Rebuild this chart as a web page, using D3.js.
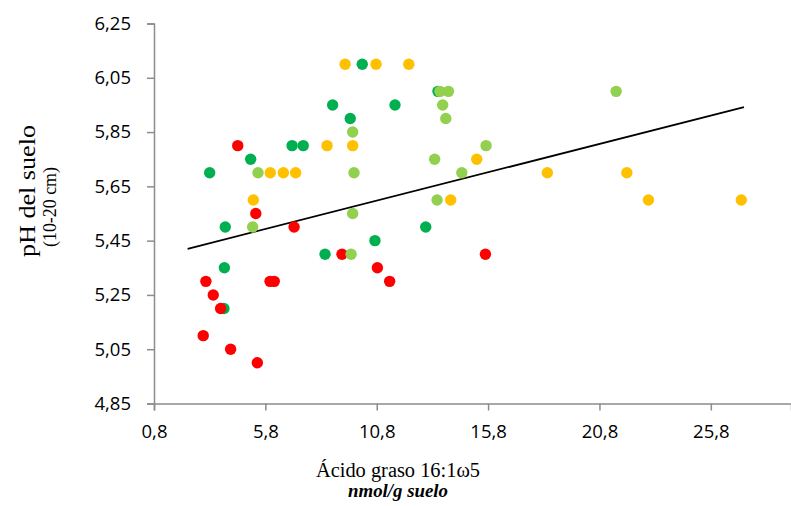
<!DOCTYPE html>
<html>
<head>
<meta charset="utf-8">
<script src="https://cdn.jsdelivr.net/npm/d3@7"></script>
<style>
  body { margin: 0; background: #fff; }
  .tick text { font-family: "Open Sans", sans-serif; font-size: 18.5px; fill: #000; }
  .domain, .tick line { stroke: #8c8c8c; stroke-width: 1.5px; }
</style>
</head>
<body>
<script>
// Series (x = 16:1w5 nmol/g, y = pH)
const greenX = [10.15, 8.82, 9.61, 7.0, 7.5, 5.14, 3.30, 13.55, 11.62, 4.0, 10.72, 8.48, 3.96, 3.94, 13.0];
const greenY = [6.10, 5.95, 5.90, 5.80, 5.80, 5.75, 5.70, 6.00, 5.95, 5.50, 5.45, 5.40, 5.35, 5.20, 5.50];

const redX = [4.56, 5.37, 7.09, 9.24, 10.83, 3.13, 6.01, 6.20, 11.38, 3.46, 3.79, 3.01, 4.24, 5.44, 15.68];
const redY = [5.80, 5.55, 5.50, 5.40, 5.35, 5.30, 5.30, 5.30, 5.30, 5.25, 5.20, 5.10, 5.05, 5.00, 5.40];

const lightX = [9.72, 5.47, 9.78, 9.72, 13.64, 14.02, 13.76, 13.90, 15.71, 13.40, 14.62, 13.51, 21.55, 5.23, 9.65];
const lightY = [5.85, 5.70, 5.70, 5.55, 6.00, 6.00, 5.95, 5.90, 5.80, 5.75, 5.70, 5.60, 6.00, 5.50, 5.40];

const orangeX = [9.38, 10.77, 12.24, 8.57, 9.72, 6.02, 6.61, 7.16, 5.26, 15.29, 18.46, 14.12, 22.03, 23.0, 27.17];
const orangeY = [6.10, 6.10, 6.10, 5.80, 5.80, 5.70, 5.70, 5.70, 5.60, 5.75, 5.70, 5.60, 5.70, 5.60, 5.60];

// linear trendline end points
const trendX = [2.31, 27.29];
const trendY = [5.42, 5.942];

const xTicks = [0.8, 5.8, 10.8, 15.8, 20.8, 25.8];
const yTicks = [4.85, 5.05, 5.25, 5.45, 5.65, 5.85, 6.05, 6.25];

const width = 791, height = 506;
const plotLeft = 154, plotTop = 23.5, plotBottom = 403.5;

const svg = d3.select("body").append("svg")
  .attr("width", width)
  .attr("height", height);

const x = d3.scaleLinear().domain([0.8, 29.4]).range([plotLeft, 791]);
const y = d3.scaleLinear().domain([4.85, 6.25]).range([plotBottom, plotTop]);

const es = d3.formatLocale({ decimal: ",", thousands: ".", grouping: [3], currency: ["", "€"] });

// axes
svg.append("g")
  .attr("transform", `translate(0,${plotBottom})`)
  .call(d3.axisBottom(x).tickValues(xTicks).tickSize(7).tickPadding(14).tickFormat(es.format(".1f")));

svg.append("g")
  .attr("transform", `translate(${plotLeft},0)`)
  .call(d3.axisLeft(y).tickValues(yTicks).tickSize(7).tickPadding(16).tickFormat(es.format(".2f")));

// trendline
svg.append("line")
  .attr("x1", x(trendX[0])).attr("y1", y(trendY[0]))
  .attr("x2", x(trendX[1])).attr("y2", y(trendY[1]))
  .attr("stroke", "#000")
  .attr("stroke-width", 1.8);

// points
const series = [
  { xs: greenX, ys: greenY, color: "#00B050" },
  { xs: redX, ys: redY, color: "#FF0000" },
  { xs: lightX, ys: lightY, color: "#92D050" },
  { xs: orangeX, ys: orangeY, color: "#FFC000" }
];

for (let s of series) {
  svg.append("g")
    .selectAll("circle")
    .data(s.xs.map((v, i) => [v, s.ys[i]]))
    .enter()
    .append("circle")
    .attr("cx", d => x(d[0]))
    .attr("cy", d => y(d[1]))
    .attr("r", 5.7)
    .attr("fill", s.color);
}

// titles
svg.append("text")
  .attr("x", 398).attr("y", 477)
  .attr("text-anchor", "middle")
  .attr("textLength", 164)
  .attr("lengthAdjust", "spacingAndGlyphs")
  .style("font-family", "'Liberation Serif', serif")
  .style("font-size", "20px")
  .text("Ácido graso 16:1ω5");

svg.append("text")
  .attr("x", 398).attr("y", 497)
  .attr("text-anchor", "middle")
  .attr("textLength", 100)
  .attr("lengthAdjust", "spacingAndGlyphs")
  .style("font-family", "'Liberation Serif', serif")
  .style("font-size", "18px")
  .style("font-weight", "bold")
  .style("font-style", "italic")
  .text("nmol/g suelo");

svg.append("text")
  .attr("transform", "translate(35,191) rotate(-90)")
  .attr("text-anchor", "middle")
  .attr("textLength", 132)
  .attr("lengthAdjust", "spacingAndGlyphs")
  .style("font-family", "'Liberation Serif', serif")
  .style("font-size", "23px")
  .text("pH del suelo");

svg.append("text")
  .attr("transform", "translate(56,207) rotate(-90)")
  .attr("text-anchor", "middle")
  .attr("textLength", 80)
  .attr("lengthAdjust", "spacingAndGlyphs")
  .style("font-family", "'Liberation Serif', serif")
  .style("font-size", "18px")
  .text("(10-20 cm)");
</script>
</body>
</html>
